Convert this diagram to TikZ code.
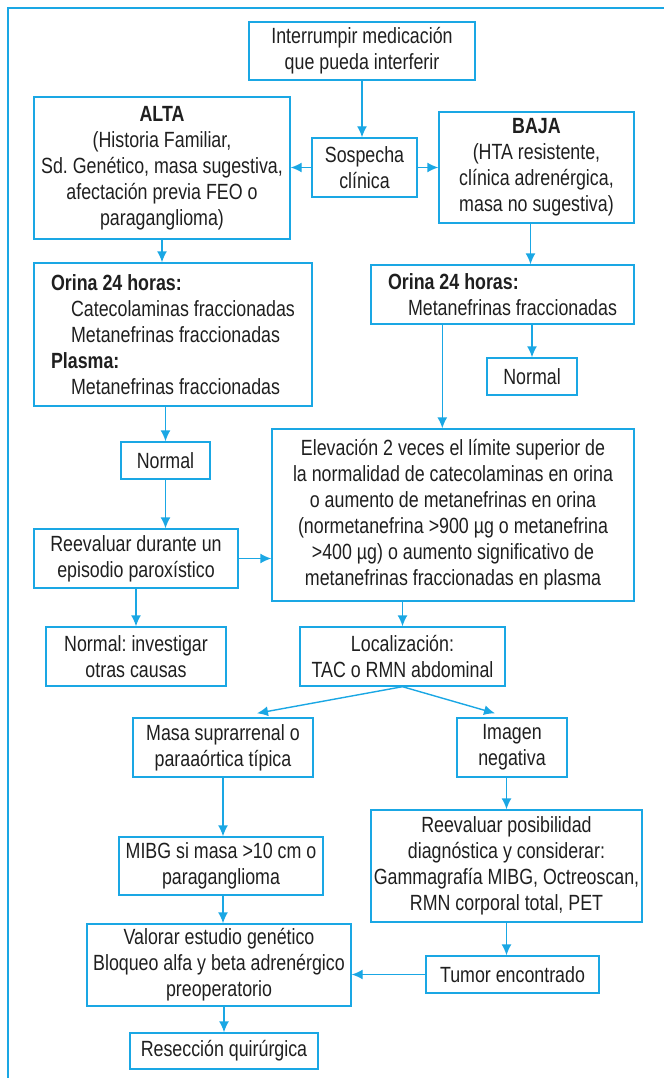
\documentclass[tikz,border=0pt]{standalone}
\usepackage{fontspec}
\setmainfont{Liberation Sans}[FakeStretch=0.81]
\usepackage{xcolor}
\usepackage{tikz}
\usetikzlibrary{arrows.meta,calc}
\definecolor{fbblue}{HTML}{1AA7E4}
\frenchspacing

\begin{document}
\begin{tikzpicture}[x=1pt,y=-1pt,
  every node/.style={font=\fontsize{22}{26}\selectfont,text=black!88},
  box/.style={draw=fbblue,line width=1.4pt,align=center,inner sep=2pt},
  arr/.style={draw=fbblue,line width=1.4pt,-{Latex[length=11pt,width=10pt]}}]
  \useasboundingbox (0,0) rectangle (664,1078);
  \draw[fbblue,line width=2pt] (8,1078) -- (8,8) -- (664,8);

  \node[box,minimum width=226,minimum height=58] (intr) at (362,51) {Interrumpir medicación\\que pueda interferir};
  \node[box,minimum width=256,minimum height=142] (alta) at (162,168) {\textbf{ALTA}\\(Historia Familiar,\\Sd. Genético, masa sugestiva,\\afectación previa FEO o\\paraganglioma)};
  \node[box,minimum width=105,minimum height=59] (sosp) at (364.5,167.5) {Sospecha\\clínica};
  \node[box,minimum width=195,minimum height=111] (baja) at (536.5,167.5) {\textbf{BAJA}\\(HTA resistente,\\clínica adrenérgica,\\masa no sugestiva)};
  \node[box,align=left,inner xsep=0,minimum width=278,minimum height=143] (orinaA) at (173,334.5) {\textbf{Orina 24 horas:}\\\hspace*{20pt}Catecolaminas fraccionadas\\\hspace*{20pt}Metanefrinas fraccionadas\\\textbf{Plasma:}\\\hspace*{20pt}Metanefrinas fraccionadas};
  \node[box,align=left,inner xsep=0,minimum width=263,minimum height=59] (orinaB) at (502.5,294.5) {\textbf{Orina 24 horas:}\\\hspace*{20pt}Metanefrinas fraccionadas};
  \node[box,minimum width=90,minimum height=37] (normB) at (532,376.5) {Normal};
  \node[box,minimum width=89,minimum height=37] (normA) at (165.5,460.5) {Normal};
  \node[box,minimum width=362,minimum height=172] (elev) at (453,515) {Elevación 2 veces el límite superior de\\la normalidad de catecolaminas en orina\\o aumento de metanefrinas en orina\\(normetanefrina >900 µg o metanefrina\\>400 µg) o aumento significativo de\\metanefrinas fraccionadas en plasma};
  \node[box,minimum width=204,minimum height=59] (reev) at (136,558.5) {Reevaluar durante un\\episodio paroxístico};
  \node[box,minimum width=180,minimum height=59] (otras) at (136,656.5) {Normal: investigar\\otras causas};
  \node[box,minimum width=205,minimum height=59] (loc) at (402.5,656.5) {Localización:\\TAC o RMN abdominal};
  \node[box,minimum width=180,minimum height=59] (masa) at (223,747.5) {Masa suprarrenal o\\paraaórtica típica};
  \node[box,minimum width=110,minimum height=59] (imag) at (512,747.5) {Imagen\\negativa};
  \node[box,minimum width=204,minimum height=58] (mibg) at (221,866) {MIBG si masa >10 cm o\\paraganglioma};
  \node[box,minimum width=271,minimum height=112] (posib) at (506.5,866) {Reevaluar posibilidad\\diagnóstica y considerar:\\Gammagrafía MIBG, Octreoscan,\\RMN corporal total, PET};
  \node[box,minimum width=264,minimum height=82] (valor) at (219,965) {Valorar estudio genético\\Bloqueo alfa y beta adrenérgico\\preoperatorio};
  \node[box,minimum width=173,minimum height=37] (tumor) at (512.5,974.5) {Tumor encontrado};
  \node[box,minimum width=188,minimum height=36] (resec) at (224,1051) {Resección quirúrgica};

  \foreach \a/\b in {intr/sosp,alta/orinaA,normA/reev,reev/otras,masa/mibg,posib/tumor}
    \draw[arr] (\a.south) -- (\a.south |- \b.north);
  \foreach \a/\b in {orinaB/normB,orinaA/normA,elev/loc,imag/posib,valor/resec}
    \draw[arr] (\b.north |- \a.south) -- (\b.north);
  \draw[arr] ([xshift=-6pt]baja.south) -- ([xshift=-6pt]baja.south |- orinaB.north);
  \draw[arr] ([xshift=72pt]orinaB.south west) -- ([xshift=72pt]orinaB.south west |- elev.north);
  \draw[arr] ([xshift=2pt]mibg.south) -- ([xshift=2pt]mibg.south |- valor.north);
  \draw[arr] (sosp.west) -- (sosp.west -| alta.east);
  \draw[arr] (sosp.east) -- (sosp.east -| baja.west);
  \draw[arr] (reev.east) -- (reev.east -| elev.west);
  \draw[arr] (tumor.west) -- (tumor.west -| valor.east);
  \draw[arr] (loc.south) -- ([xshift=34pt,yshift=4pt]masa.north);
  \draw[arr] (loc.south) -- ([xshift=-17pt,yshift=4pt]imag.north);
\end{tikzpicture}
\end{document}
